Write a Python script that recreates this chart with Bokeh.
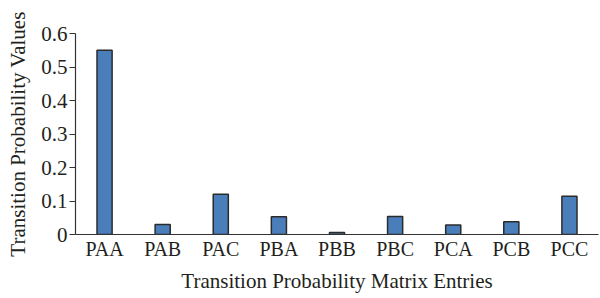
from bokeh.plotting import figure
from bokeh.models import FixedTicker, ColumnDataSource
from bokeh.embed import file_html
from bokeh.resources import INLINE

categories = ["PAA", "PAB", "PAC", "PBA", "PBB", "PBC", "PCA", "PCB", "PCC"]
values = [0.55, 0.03, 0.12, 0.053, 0.006, 0.054, 0.028, 0.038, 0.114]
y_ticks = [0, 0.1, 0.2, 0.3, 0.4, 0.5, 0.6]
y_tick_labels = ["0", "0.1", "0.2", "0.3", "0.4", "0.5", "0.6"]

FONT = "Liberation Serif"
TXT = "#231f20"

src = ColumnDataSource(dict(cat=categories, val=values))

p = figure(x_range=categories, y_range=(0, 0.6), width=600, height=298,
           output_backend="svg", toolbar_location=None,
           min_border_left=75, min_border_right=2, min_border_top=33, min_border_bottom=64)
p.vbar(x="cat", top="val", width=0.26, source=src,
       fill_color="#4a7ebb", line_color="#2b2b2b", line_width=1.5)

p.outline_line_color = None
p.grid.grid_line_color = None
p.background_fill_color = "white"

ya = p.yaxis[0]
ya.ticker = FixedTicker(ticks=y_ticks)
ya.major_label_overrides = {t: l for t, l in zip(y_ticks, y_tick_labels)}
ya.minor_tick_line_color = None
ya.major_tick_out = 6
ya.major_tick_in = 0
ya.axis_line_color = "#333333"
ya.major_tick_line_color = "#333333"
ya.axis_line_width = 1.2
ya.major_label_text_font = FONT
ya.major_label_text_font_size = "21px"
ya.major_label_text_color = TXT
ya.major_label_standoff = 2
ya.axis_label = "Transition Probability Values"
ya.axis_label_text_font = FONT
ya.axis_label_text_font_size = "21px"
ya.axis_label_text_font_style = "normal"
ya.axis_label_text_color = TXT
ya.axis_label_standoff = 8

xa = p.xaxis[0]
xa.major_tick_line_color = None
xa.minor_tick_line_color = None
xa.major_tick_out = 0
xa.major_tick_in = 0
xa.axis_line_color = "#333333"
xa.axis_line_width = 1.2
xa.major_label_text_font = FONT
xa.major_label_text_font_size = "20px"
xa.major_label_text_color = TXT
xa.major_label_standoff = 3
xa.axis_label = "Transition Probability Matrix Entries"
xa.axis_label_text_font = FONT
xa.axis_label_text_font_size = "21px"
xa.axis_label_text_font_style = "normal"
xa.axis_label_text_color = TXT
xa.axis_label_standoff = 6

open("out.html", "w").write(file_html(p, INLINE))
